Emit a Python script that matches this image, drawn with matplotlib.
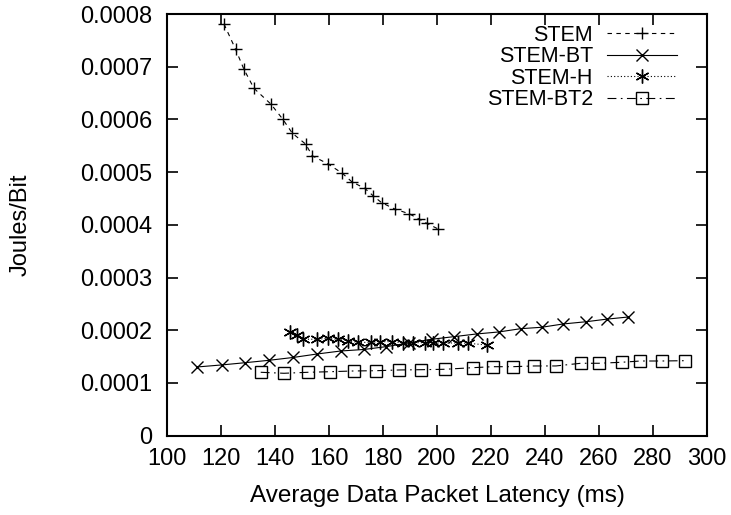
import matplotlib
matplotlib.use("Agg")
import matplotlib.pyplot as plt
from matplotlib.ticker import FuncFormatter, MultipleLocator

plt.rcParams['font.family'] = ['Liberation Sans', 'DejaVu Sans']

stem_x = [121.1, 125.4, 128.5, 132.2, 138.5, 142.8, 146.4, 151.4, 153.8, 159.5,
          164.9, 168.4, 173.3, 176.4, 179.5, 184.4, 189.7, 193.4, 196.2, 200.5]
stem_y = [0.000781, 0.000733, 0.000695, 0.000659, 0.000629, 0.000601, 0.000574, 0.000553, 0.000531, 0.000516,
          0.000498, 0.000482, 0.000469, 0.000455, 0.000442, 0.000430, 0.000421, 0.000411, 0.000403, 0.000392]

stembt_x = [111.2, 120.2, 129.0, 137.9, 146.7, 155.6, 164.4, 173.0, 181.1, 189.6,
            198.0, 206.3, 214.7, 222.9, 231.0, 238.8, 246.8, 255.1, 262.9, 270.9]
stembt_y = [0.0001304, 0.0001342, 0.0001385, 0.0001431, 0.0001484, 0.0001550, 0.0001607, 0.0001636, 0.0001689, 0.0001759,
            0.0001829, 0.0001879, 0.0001930, 0.0001968, 0.0002030, 0.0002057, 0.0002120, 0.0002161, 0.0002211, 0.0002252]

stemh_x = [145.6, 148.3, 150.2, 155.4, 159.7, 163.4, 167.1, 170.8, 175.4, 178.9,
           183.2, 187.5, 191.2, 195.6, 198.6, 202.3, 207.9, 211.6, 218.4]
stemh_y = [0.0001973, 0.0001911, 0.0001831, 0.0001829, 0.0001848, 0.0001825, 0.0001803, 0.0001769, 0.0001772, 0.0001784,
           0.0001784, 0.0001765, 0.0001765, 0.0001765, 0.0001759, 0.0001759, 0.0001759, 0.0001753, 0.0001721]

stembt2_x = [134.7, 143.3, 152.3, 160.4, 169.3, 177.4, 186.1, 194.2, 203.0, 213.2,
             220.6, 228.0, 236.0, 244.1, 253.3, 260.0, 268.4, 275.4, 283.2, 291.9]
stembt2_y = [0.0001203, 0.0001184, 0.0001203, 0.0001214, 0.0001228, 0.0001233, 0.0001247, 0.0001252, 0.0001260, 0.0001290,
             0.0001309, 0.0001309, 0.0001323, 0.0001323, 0.0001374, 0.0001374, 0.0001393, 0.0001417, 0.0001417, 0.0001423]

fig = plt.figure(figsize=(7.31, 5.15), dpi=100)
ax = fig.add_axes([0.2285, 0.154, 0.7385, 0.8188])

lw = 0.8
ax.plot(stem_x, stem_y, linestyle=(0, (4, 4)), color='black', linewidth=lw,
        marker='+', markersize=8, markeredgewidth=1.0, label='STEM')
ax.plot(stembt_x, stembt_y, linestyle='-', color='black', linewidth=lw,
        marker='x', markersize=8.5, markeredgewidth=1.0, label='STEM-BT')
ax.plot(stemh_x, stemh_y, linestyle=(0, (1, 2)), color='black', linewidth=lw,
        marker=(6, 2, 0), markersize=10, markeredgewidth=1.0, label='STEM-H')
ax.plot(stembt2_x, stembt2_y, linestyle=(0, (8, 4, 1.5, 4)), color='black', linewidth=lw,
        marker='s', markersize=8, markeredgewidth=1.0, markerfacecolor='none', label='STEM-BT2')

ax.set_xlim(100, 300)
ax.set_ylim(0, 0.0008)
ax.xaxis.set_major_locator(MultipleLocator(20))
ax.yaxis.set_major_locator(MultipleLocator(0.0001))
ax.yaxis.set_major_formatter(FuncFormatter(lambda v, p: '0' if abs(v) < 1e-12 else f'{v:.4f}'))

ax.tick_params(direction='in', length=8, width=1.2, top=True, right=True, labelsize=17)
ax.tick_params(axis='x', pad=9)
ax.tick_params(axis='y', pad=10.5)
for s in ax.spines.values():
    s.set_linewidth(1.5)

ax.set_xlabel('Average Data Packet Latency (ms)', fontsize=17.5)
ax.set_ylabel('Joules/Bit', fontsize=17)
ax.xaxis.set_label_coords(0.5, -0.118)
ax.yaxis.set_label_coords(-0.25, 0.5)

leg = ax.legend(loc='upper right', bbox_to_anchor=(0.9444, 0.974), frameon=False,
                markerfirst=False, fontsize=15.5, handlelength=3.25, handletextpad=0.65,
                labelspacing=0.02, borderaxespad=0.0, borderpad=0.0)

fig.savefig('out.png', dpi=100)
